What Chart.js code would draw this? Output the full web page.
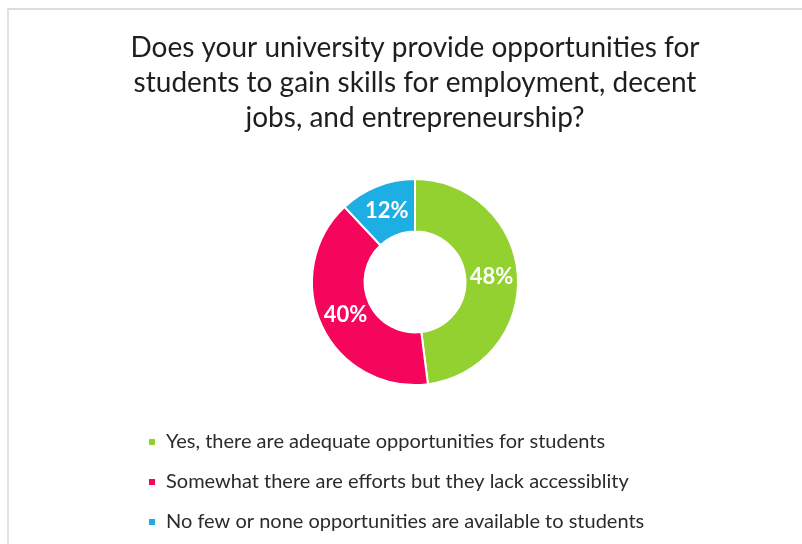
<!DOCTYPE html>
<html>
<head>
<meta charset="utf-8">
<script src="https://cdn.jsdelivr.net/npm/chart.js@4/dist/chart.umd.min.js"></script>
<style>
    html, body { margin: 0; padding: 0; background: #ffffff; }
    #wrap { position: relative; width: 802px; height: 544px; overflow: hidden; }
    #frame {
        position: absolute; left: 7px; top: 8px; width: 820px; height: 560px;
        border-left: 2px solid #e2e2e2; border-top: 2px solid #dcdcdc;
    }
    canvas { position: absolute; left: 0; top: 0; }
</style>
</head>
<body>
<div id="wrap">
    <div id="frame"></div>
    <canvas id="chart" width="802" height="544"></canvas>
</div>
<script>
const titleLines = [
    'Does your university provide opportunities for',
    'students to gain skills for employment, decent',
    'jobs, and entrepreneurship?'
];
const categories = [
    'Yes, there are adequate opportunities for students',
    'Somewhat there are efforts but they lack accessiblity',
    'No few or none opportunities are available to students'
];
const shares = [48, 40, 12];
const sliceColors = ['#92d130', '#f5055c', '#1daee4'];

// percentages written in white on each slice
const sliceLabels = {
    id: 'sliceLabels',
    afterDatasetsDraw(chart) {
        const ctx = chart.ctx;
        const meta = chart.getDatasetMeta(0);
        ctx.save();
        ctx.fillStyle = '#ffffff';
        ctx.font = 'bold 22px Lato';
        ctx.textAlign = 'center';
        ctx.textBaseline = 'middle';
        meta.data.forEach((arc, i) => {
            const pos = arc.getCenterPoint();
            ctx.fillText(shares[i] + '%', pos.x, pos.y);
        });
        ctx.restore();
    }
};

const config = {
    type: 'doughnut',
    data: {
        labels: categories,
        datasets: [{
            data: shares,
            backgroundColor: sliceColors,
            borderColor: '#ffffff',
            borderWidth: 2
        }]
    },
    options: {
        responsive: false,
        animation: false,
        radius: 103,
        cutout: '49%',
        layout: {
            padding: { top: 10, left: 128, right: 100, bottom: 2 }
        },
        plugins: {
            title: {
                display: true,
                text: titleLines,
                color: '#1e1e1e',
                font: { family: 'Lato', size: 28, weight: 'normal', lineHeight: 1.25 },
                padding: { top: 20, bottom: 17 }
            },
            legend: {
                position: 'bottom',
                align: 'start',
                labels: {
                    color: '#2b2b2b',
                    font: { family: 'Lato', size: 20 },
                    boxWidth: 8,
                    boxHeight: 8,
                    padding: 20
                }
            },
            tooltip: { enabled: false }
        }
    },
    plugins: [sliceLabels]
};

new Chart(document.getElementById('chart'), config);
</script>
</body>
</html>
